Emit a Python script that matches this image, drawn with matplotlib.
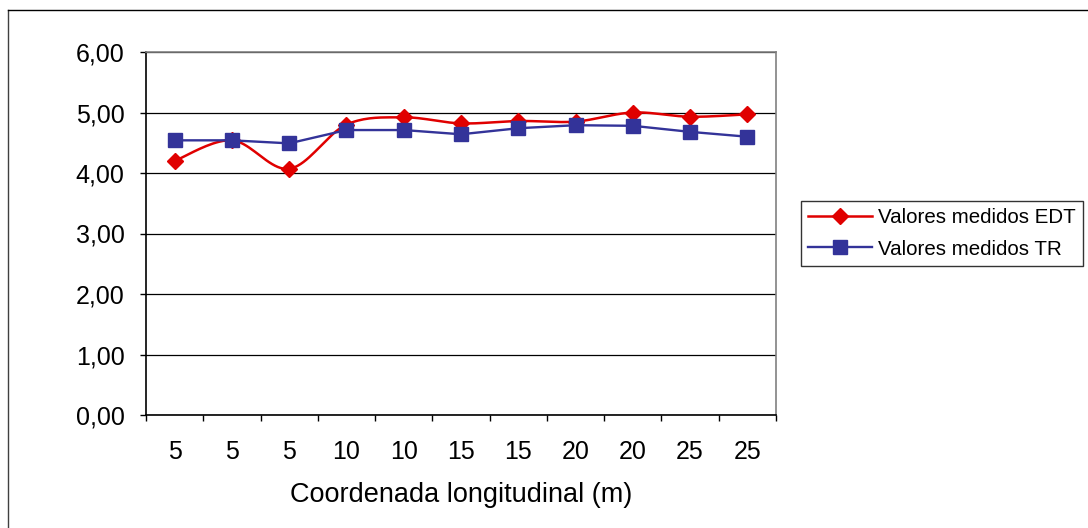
import numpy as np
import matplotlib
matplotlib.use("Agg")
import matplotlib.pyplot as plt
from matplotlib.lines import Line2D

categories = ["5", "5", "5", "10", "10", "15", "15", "20", "20", "25", "25"]
edt = [4.20, 4.54, 4.07, 4.80, 4.92, 4.82, 4.86, 4.85, 5.00, 4.93, 4.97]
tr = [4.54, 4.54, 4.49, 4.71, 4.71, 4.64, 4.74, 4.79, 4.78, 4.68, 4.60]
yticks = [0, 1, 2, 3, 4, 5, 6]
ytick_labels = ["0,00", "1,00", "2,00", "3,00", "4,00", "5,00", "6,00"]

RED = "#E00000"
BLUE = "#333399"
FONT = "Liberation Sans"
plt.rcParams["font.family"] = [FONT, "DejaVu Sans"]

W, H = 1088, 528
fig = plt.figure(figsize=(W / 100, H / 100), dpi=100)

# chart area border (only left and top edges visible in the crop)
fig.add_artist(Line2D([7.5 / W, 7.5 / W], [0, 1 - 9.5 / H], transform=fig.transFigure,
                      color="#404040", linewidth=1.0))
fig.add_artist(Line2D([7.5 / W, 1], [1 - 9.5 / H, 1 - 9.5 / H], transform=fig.transFigure,
                      color="black", linewidth=1.0))

ax = fig.add_axes([146 / W, 1 - 415 / H, (776 - 146) / W, (415 - 52) / H])

x = np.arange(len(categories))


def catmull_rom(xs, ys, n=20):
    xs = np.asarray(xs, float)
    ys = np.asarray(ys, float)
    P = np.column_stack([xs, ys])
    P = np.vstack([P[0], P, P[-1]])
    out = []
    for i in range(1, len(P) - 2):
        p0, p1, p2, p3 = P[i - 1], P[i], P[i + 1], P[i + 2]
        t = np.linspace(0, 1, n, endpoint=(i == len(P) - 3))[:, None]
        c1 = p1 + (p2 - p0) / 6
        c2 = p2 - (p3 - p1) / 6
        b = ((1 - t) ** 3) * p1 + 3 * ((1 - t) ** 2) * t * c1 + 3 * (1 - t) * t ** 2 * c2 + t ** 3 * p2
        out.append(b)
    out = np.vstack(out)
    return out[:, 0], out[:, 1]


sx, sy = catmull_rom(x, edt)
ax.plot(sx, sy, color=RED, linewidth=1.8, zorder=3)
ax.plot(x, edt, linestyle="none", marker="D", markersize=8, color=RED, zorder=4)
ax.plot(x, tr, color=BLUE, linewidth=1.7, marker="s", markersize=10, zorder=5)

ax.set_xlim(-0.5, len(categories) - 0.5)
ax.set_ylim(0, 6)

ax.set_yticks(yticks)
ax.set_yticklabels(ytick_labels)
ax.yaxis.grid(True, color="black", linewidth=0.9)
ax.set_axisbelow(True)

ax.set_xticks(np.arange(len(categories) + 1) - 0.5)
ax.set_xticklabels([])
ax.set_xticks(x, minor=True)
ax.set_xticklabels(categories, minor=True)
ax.tick_params(axis="x", which="major", direction="out", length=4.5, width=1, color="black")
ax.tick_params(axis="x", which="minor", length=0, pad=18, labelsize=18)
ax.tick_params(axis="y", direction="out", length=4.5, width=1, pad=11, labelsize=18)

for s in ["top", "right"]:
    ax.spines[s].set_color("#808080")
    ax.spines[s].set_linewidth(1.2)
for s in ["left", "bottom"]:
    ax.spines[s].set_color("black")
    ax.spines[s].set_linewidth(1.2)

fig.text(461.5 / W, 1 - 495 / H, "Coordenada longitudinal (m)", ha="center", va="center", fontsize=19.5)

handles = [Line2D([], [], color=RED, linewidth=1.8, marker="D", markersize=8),
           Line2D([], [], color=BLUE, linewidth=1.7, marker="s", markersize=10)]
leg = fig.legend(handles, ["Valores medidos EDT", "Valores medidos TR"],
                 loc="upper left", bbox_to_anchor=(801 / W, 1 - 201 / H),
                 fontsize=14.8, frameon=True, fancybox=False, handlelength=3.1,
                 handletextpad=0.3, borderpad=0.35, labelspacing=0.6, borderaxespad=0)
leg.get_frame().set_edgecolor("black")
leg.get_frame().set_linewidth(1.0)

fig.savefig("out.png", dpi=100)
